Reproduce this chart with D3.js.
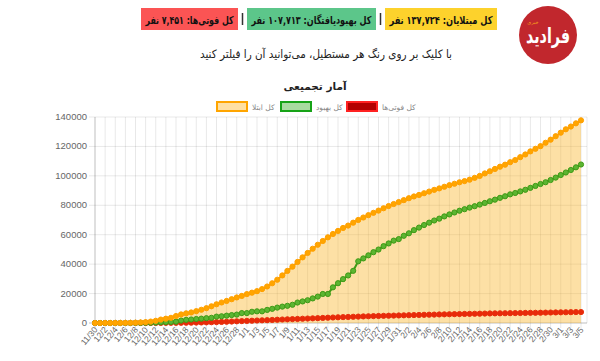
<!DOCTYPE html>
<html><head><meta charset="utf-8">
<script src="https://cdn.jsdelivr.net/npm/d3@7"></script>
<style>body{margin:0;background:#fff;}svg{display:block;font-family:"DejaVu Sans",sans-serif;}</style>
</head><body><svg id="c" width="600" height="361"></svg>
<script>
const labels = ["11/30",
"12/1","12/2","12/3","12/4","12/5","12/6","12/7","12/8","12/9","12/10","12/11","12/12","12/13","12/14","12/15","12/16","12/17","12/18","12/19","12/20","12/21","12/22","12/23","12/24","12/25","12/26","12/27","12/28","12/29",
"1/1","1/2","1/3","1/4","1/5","1/6","1/7","1/8","1/9","1/10","1/11","1/12","1/13","1/14","1/15","1/16","1/17","1/18","1/19","1/20","1/21","1/22","1/23","1/24","1/25","1/26","1/27","1/28","1/29","1/30","1/31",
"2/1","2/2","2/3","2/4","2/5","2/6","2/7","2/8","2/9","2/10","2/11","2/12","2/13","2/14","2/15","2/16","2/17","2/18","2/19","2/20","2/21","2/22","2/23","2/24","2/25","2/26","2/27","2/28","2/29","2/30","2/31",
"3/1","3/2","3/3","3/4","3/5"];
const cases = [2,5,18,28,43,61,95,139,245,388,593,978,1501,2336,2922,3513,4747,5823,6566,7161,8042,9000,10075,11364,12729,13938,14991,16169,17361,18407,
19644,20610,21638,23049,24811,27017,29406,32332,35408,38309,41495,44605,47593,50468,53183,55743,58226,60500,62589,64586,66220,68192,70029,71686,73303,74877,76389,77995,79494,80868,82211,
83505,84802,85996,87026,88194,89328,90481,91472,92584,93657,94640,95646,96448,97424,98647,99970,101650,103135,104691,106220,107603,109286,110767,112725,114533,116635,118392,120198,122492,124603,126949,
129341,131652,133521,135701,137724];
const recovered = [0,0,0,0,0,0,0,0,49,73,123,175,291,435,552,739,913,1669,2134,2394,2731,2959,3276,3529,4339,4590,4996,5389,5710,6745,
6745,7635,7931,7931,8913,9625,10457,11133,11679,12391,13911,14656,15473,16711,17935,19736,19736,24236,27039,29812,32309,35465,41947,43894,45983,48129,49933,52229,54064,55987,57023,
59273,60965,63113,64843,66599,68193,69657,70933,72439,73791,75103,76318,77350,78422,79379,80475,81587,82744,83837,85064,86143,87422,88357,89428,90539,91836,93147,94464,95661,97173,98808,
100564,102276,103981,105801,107713];
const deaths = [2,2,4,5,8,12,16,19,26,34,43,54,66,77,92,107,124,145,194,237,291,354,429,514,611,724,853,988,1135,1284,
1433,1556,1685,1812,1934,2077,2234,2378,2517,2640,2757,2898,3036,3160,3294,3452,3603,3739,3872,3993,4110,4232,4357,4474,4585,4683,4777,4869,4958,5031,5118,
5209,5297,5391,5481,5574,5650,5710,5806,5877,5957,6028,6091,6156,6203,6277,6340,6418,6486,6541,6589,6640,6685,6733,6783,6854,6902,6937,6988,7057,7119,7183,
7249,7300,7359,7417,7451];
const yTicks = [0,20000,40000,60000,80000,100000,120000,140000];
const headerItems = [
  {text:"کل فوتی‌ها: ۷,۴۵۱ نفر", color:"#fb5454", x0:141, x1:238},
  {text:"کل بهبودیافتگان: ۱۰۷,۷۱۳ نفر", color:"#5cc68a", x0:247, x1:376},
  {text:"کل مبتلایان: ۱۳۷,۷۲۴ نفر", color:"#fdd22c", x0:385, x1:497}
];
const legendItems = [
  {text:"کل ابتلا", stroke:"#ffa500", fill:"#ffe0a3", x:217},
  {text:"کل بهبود", stroke:"#17a317", fill:"#a9dba0", x:281},
  {text:"کل فوتی‌ها", stroke:"#f22", fill:"#b30000", x:347}
];

const svg = d3.select("#c");
// header
headerItems.forEach(h=>{
  svg.append("rect").attr("x",h.x0).attr("y",8).attr("width",h.x1-h.x0).attr("height",22).attr("fill",h.color);
  svg.append("text").attr("x",(h.x0+h.x1)/2).attr("y",23.5).attr("text-anchor","middle")
    .style("direction","rtl").attr("font-size",11).attr("font-weight","bold").attr("fill","#111")
    .attr("textLength", h.x1-h.x0-9).attr("lengthAdjust","spacingAndGlyphs").text(h.text);
});
[242.5,380.5].forEach(x=>svg.append("rect").attr("x",x-0.75).attr("y",13).attr("width",1.5).attr("height",12).attr("fill","#333"));
svg.append("text").attr("x",326).attr("y",58).attr("text-anchor","middle").style("direction","rtl")
  .attr("font-size",11.5).attr("fill","#222").attr("textLength",252).attr("lengthAdjust","spacingAndGlyphs")
  .text("با کلیک بر روی رنگ هر مستطیل، می‌توانید آن را فیلتر کنید");
// logo
svg.append("circle").attr("cx",548).attr("cy",35).attr("r",29).attr("fill","#c1272d");
svg.append("text").attr("x",548).attr("y",43).attr("text-anchor","middle").style("direction","rtl")
  .attr("font-size",21).attr("font-weight","bold").attr("fill","#fff").attr("textLength",44).attr("lengthAdjust","spacingAndGlyphs").text("فرادید");
svg.append("text").attr("x",533).attr("y",24).attr("text-anchor","middle").attr("font-size",5).attr("fill","#f7a21b").style("direction","rtl").text("خبری");
// title
svg.append("text").attr("x",315).attr("y",90).attr("text-anchor","middle").style("direction","rtl")
  .attr("font-size",10.5).attr("font-weight","bold").attr("fill","#222").text("آمار تجمیعی");
// legend
legendItems.forEach(l=>{
  svg.append("rect").attr("x",l.x).attr("y",102).attr("width",30).attr("height",9).attr("fill",l.fill).attr("stroke",l.stroke).attr("stroke-width",2);
  svg.append("text").attr("x",l.x+35).attr("y",109.5).attr("font-size",7.5).attr("fill","#888").attr("text-anchor","start").text(l.text);
});

const x = d3.scaleLinear().domain([0,labels.length-1]).range([95,581]);
const y = d3.scaleLinear().domain([0,140000]).range([323,117]);
const g = svg.append("g");
// grid
labels.forEach((lb,i)=>{ if(i%2===0){
  g.append("line").attr("x1",x(i)).attr("x2",x(i)).attr("y1",117).attr("y2",328).attr("stroke", i===0?"rgba(0,0,0,0.25)":"rgba(0,0,0,0.09)");
}});
g.append("line").attr("x1",587).attr("x2",587).attr("y1",117).attr("y2",323).attr("stroke","rgba(0,0,0,0.09)");
yTicks.forEach(t=>{
  g.append("line").attr("x1",89).attr("x2",587).attr("y1",y(t)).attr("y2",y(t)).attr("stroke", t===0?"rgba(0,0,0,0.25)":"rgba(0,0,0,0.09)");
  g.append("text").attr("x",87).attr("y",y(t)+3).attr("text-anchor","end").attr("font-family","Liberation Sans, Arial").attr("font-size",9.5).attr("fill","#666").text(t);
});
labels.forEach((lb,i)=>{ if(i%2===0){
  g.append("text").attr("transform",`translate(${x(i)+3},${330}) rotate(-50)`).attr("text-anchor","end")
   .attr("font-family","Liberation Sans, Arial").attr("font-size",8.5).attr("fill","#666").text(lb);
}});
// area
const area = d3.area().x((d,i)=>x(i)).y0(y(0)).y1(d=>y(d));
g.append("path").datum(cases).attr("d",area).attr("fill","rgba(250,180,40,0.42)");
const line = d3.line().x((d,i)=>x(i)).y(d=>y(d));
const series = [
  {data:deaths, stroke:"#e8300c", fill:"#e82a0a"},
  {data:recovered, stroke:"#3f9a16", fill:"#5cb531"},
  {data:cases, stroke:"#ffa000", fill:"#ffa500"}
];
series.forEach(s=>{
  g.append("path").datum(s.data).attr("d",line).attr("fill","none").attr("stroke",s.stroke).attr("stroke-width",2);
  g.selectAll(null).data(s.data).enter().append("circle").attr("cx",(d,i)=>x(i)).attr("cy",d=>y(d)).attr("r",2.6)
    .attr("fill",s.fill).attr("stroke",s.stroke).attr("stroke-width",1);
});
</script></body></html>
